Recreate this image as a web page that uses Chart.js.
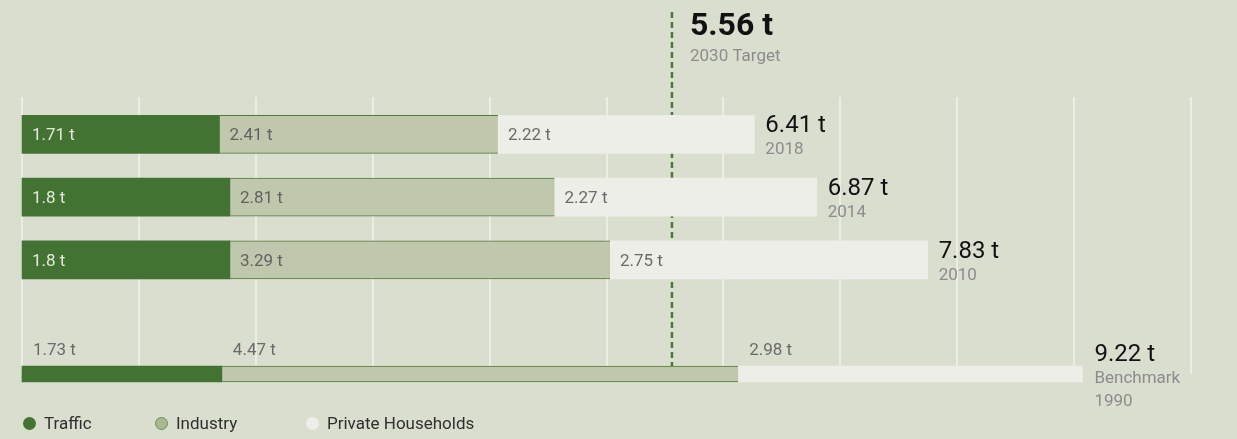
<!DOCTYPE html>
<html>
<head>
<meta charset="utf-8">
<script src="https://cdn.jsdelivr.net/npm/chart.js@4.4.0/dist/chart.umd.min.js"></script>
<style>
  body { margin: 0; background: #dadecf; font-family: Roboto, sans-serif; }
  .wrap { position: relative; width: 1237px; height: 439px; }
  .legend { position: absolute; left: 0; top: 413px; width: 100%; height: 20px; font-size: 17px; color: #2f2f2f; }
  .legend .item { position: absolute; top: 0; display: flex; align-items: center; white-space: nowrap; }
  .legend .dot { width: 13px; height: 13px; border-radius: 50%; box-sizing: border-box; margin-right: 8px; }
</style>
</head>
<body>
<div class="wrap">
  <canvas id="chart"></canvas>
  <div class="legend" id="legend"></div>
</div>
<script>
// rows, top to bottom (the last one is the 1990 benchmark)
const categories = ['2018', '2014', '2010', '1990'];
const seriesNames = ['Traffic', 'Industry', 'Private Households'];
const traffic = [1.71, 1.8, 1.8, 1.73];
const industry = [2.41, 2.81, 3.29, 4.47];
const households = [2.22, 2.27, 2.75, 2.98];
const totals = [6.41, 6.87, 7.83, 9.22];
const target = 5.56;
const targetLabel = '2030 Target';
const benchmarkLabel = 'Benchmark';
const gridMax = 10;

const colors = ['#437332', '#bfc8ad', '#edeee8'];
const legendDots = ['#437332', '#a9b793', '#edeee8'];
const textColors = ['#e4e9da', '#626262', '#6a6a6a'];
const series = [traffic, industry, households];
const rows = categories.length - 1;

// two datasets per series: one for the yearly rows, one for the thin benchmark bar
const datasets = [];
series.forEach((values, i) => {
    const common = {
        label: seriesNames[i],
        backgroundColor: colors[i],
        borderColor: '#4d7c39',
        borderWidth: i === 1 ? { top: 1, bottom: 1, left: 0, right: 0 } : 0,
        borderSkipped: false,
        grouped: false,
        clip: false,
        xAxisID: 'x'
    };
    datasets.push({ ...common, data: values.slice(0, rows), yAxisID: 'y', barThickness: 38 });
    datasets.push({ ...common, data: values.slice(rows), yAxisID: 'yb', barThickness: 16 });
});

const fmt = v => v + ' t';

const labelsPlugin = {
    id: 'labels',
    beforeDatasetsDraw(chart) {
        // dashed target line sits behind the bars
        const { ctx, chartArea, scales } = chart;
        const x = scales.xGrid.getPixelForValue(target);
        ctx.save();
        ctx.strokeStyle = '#4a7b36';
        ctx.lineWidth = 2.5;
        ctx.setLineDash([6, 4]);
        ctx.beginPath();
        ctx.moveTo(x, chartArea.top - 91);
        ctx.lineTo(x, chartArea.bottom);
        ctx.stroke();
        ctx.setLineDash([]);
        ctx.textAlign = 'left';
        ctx.textBaseline = 'alphabetic';
        ctx.fillStyle = '#111';
        ctx.font = 'bold 32px Roboto';
        ctx.fillText(fmt(target), x + 18, chartArea.top - 68);
        ctx.fillStyle = '#8c8c8c';
        ctx.font = '17px Roboto';
        ctx.fillText(targetLabel, x + 18, chartArea.top - 42);
        ctx.restore();
    },
    afterDatasetsDraw(chart) {
        const { ctx } = chart;
        ctx.save();
        ctx.textAlign = 'left';
        ctx.textBaseline = 'alphabetic';

        // yearly rows
        for (let r = 0; r < rows; r++) {
            series.forEach((values, s) => {
                const bar = chart.getDatasetMeta(s * 2).data[r];
                ctx.font = '17px Roboto';
                ctx.fillStyle = textColors[s];
                ctx.fillText(fmt(values[r]), bar.base + 10, bar.y + 6);
            });
            const last = chart.getDatasetMeta(4).data[r];
            ctx.fillStyle = '#111';
            ctx.font = '24px Roboto';
            ctx.fillText(fmt(totals[r]), last.x + 11, last.y - 2);
            ctx.fillStyle = '#8c8c8c';
            ctx.font = '17px Roboto';
            ctx.fillText(categories[r], last.x + 11, last.y + 20);
        }

        // benchmark row: labels above the thin bar
        series.forEach((values, s) => {
            const bar = chart.getDatasetMeta(s * 2 + 1).data[0];
            ctx.font = '17px Roboto';
            ctx.fillStyle = '#6a6a6a';
            ctx.fillText(fmt(values[rows]), bar.base + 11, bar.y - 19);
        });
        const last = chart.getDatasetMeta(5).data[0];
        ctx.fillStyle = '#111';
        ctx.font = '24px Roboto';
        ctx.fillText(fmt(totals[rows]), last.x + 12, last.y - 13);
        ctx.fillStyle = '#8c8c8c';
        ctx.font = '17px Roboto';
        ctx.fillText(benchmarkLabel, last.x + 12, last.y + 9);
        ctx.fillText(categories[rows], last.x + 12, last.y + 32);
        ctx.restore();
    }
};

const chart = new Chart(document.getElementById('chart'), {
    type: 'bar',
    data: { labels: categories.slice(0, rows), datasets },
    options: {
        indexAxis: 'y',
        responsive: true,
        maintainAspectRatio: false,
        animation: false,
        layout: { padding: { left: 22, right: 46, top: 97, bottom: 65 } },
        plugins: { legend: { display: false }, tooltip: { enabled: false } },
        scales: {
            x: { stacked: true, display: false, min: 0, max: 10.12 },
            xGrid: {
                axis: 'x',
                type: 'linear',
                position: 'top',
                min: 0,
                max: gridMax,
                ticks: { display: false, stepSize: 1 },
                grid: { color: '#eceee6', lineWidth: 2, tickLength: 6 },
                border: { display: false }
            },
            y: {
                type: 'category',
                labels: categories.slice(0, rows),
                stacked: true,
                display: false,
                stack: 'rows',
                stackWeight: 2.275,
                weight: 1
            },
            yb: {
                axis: 'y',
                type: 'category',
                labels: categories.slice(rows),
                stacked: true,
                display: false,
                offset: false,
                reverse: true,
                stack: 'rows',
                stackWeight: 1,
                weight: 0
            }
        }
    },
    plugins: [labelsPlugin]
});

// legend
const legend = document.getElementById('legend');
const legendLeft = [23, 155, 306];
seriesNames.forEach((name, i) => {
    const item = document.createElement('span');
    item.className = 'item';
    item.style.left = legendLeft[i] + 'px';
    const dot = document.createElement('span');
    dot.className = 'dot';
    dot.style.background = legendDots[i];
    if (i === 1) dot.style.border = '1px solid #6f8d59';
    item.appendChild(dot);
    item.appendChild(document.createTextNode(name));
    legend.appendChild(item);
});
</script>
</body>
</html>
